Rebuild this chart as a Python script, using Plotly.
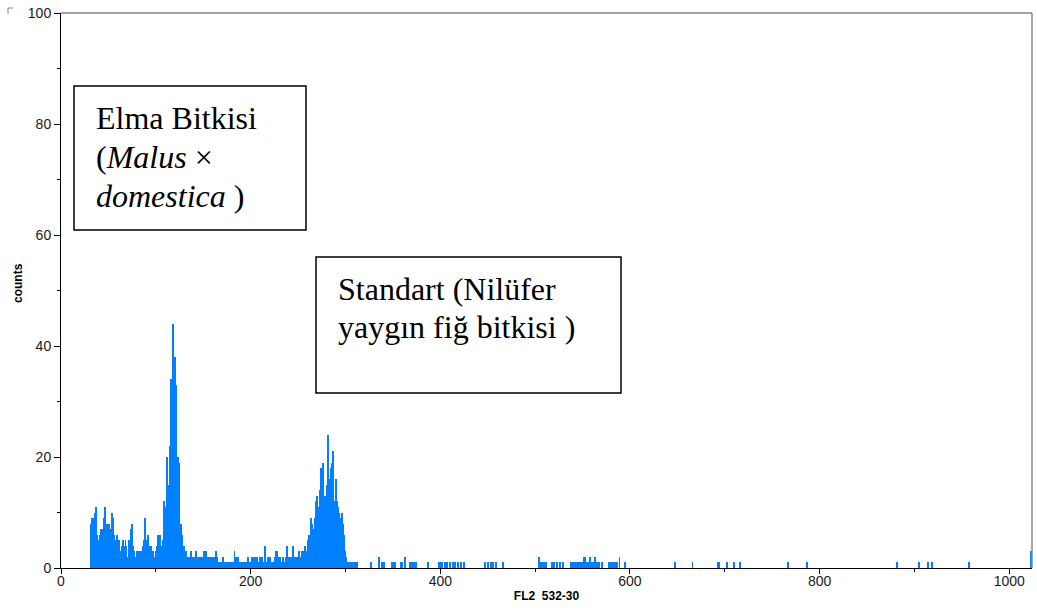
import plotly.graph_objects as go

# ---------------- data ----------------
dense_start = 32  # first channel of the dense block
dense_counts = [
    8, 9, 7, 9, 10, 11, 6, 5, 5, 6,
    7, 7, 6, 9, 11, 7, 5, 8, 6, 8,
    7, 5, 10, 9, 6, 5, 3, 6, 4, 5,
    3, 3, 4, 5, 2, 4, 5, 4, 2, 1,
    5, 5, 7, 8, 4, 3, 2, 1, 3, 3,
    2, 3, 3, 3, 4, 3, 5, 9, 5, 5,
    6, 3, 4, 4, 2, 3, 2, 1, 3, 4,
    6, 6, 6, 4, 4, 3, 5,
    # peak 1 (channels 109-135)
    12, 10, 11, 20, 11, 15, 22, 34, 34, 44,
    38, 38, 33, 20, 20, 19, 9, 8, 8, 6,
    4, 4, 2, 3, 1, 2, 2,
    # valley (136-256)
    1, 3, 2, 1, 2, 1, 3, 1, 2, 2,
    2, 1, 2, 2, 1, 3, 1, 3, 2, 2,
    2, 1, 2, 2, 1, 2, 1, 3, 3, 2,
    1, 1, 0, 1, 1, 2, 0, 1, 1, 1,
    0, 1, 1, 1, 0, 1, 1, 3, 2, 1,
    2, 2, 1, 1, 0, 1, 1, 1, 0, 1,
    1, 2, 1, 1, 1, 2, 1, 1, 2, 1,
    2, 2, 1, 1, 2, 1, 2, 1, 1, 4,
    1, 1, 2, 1, 2, 1, 1, 1, 0, 1,
    2, 3, 3, 1, 2, 2, 1, 1, 2, 1,
    1, 2, 4, 2, 2, 1, 2, 1, 2, 4,
    2, 2, 1, 2, 2, 3, 1, 2, 3, 2,
    3,
    # peak 2 (257-312)
    4, 2, 3, 5, 4, 6, 5, 9, 8, 7,
    6, 9, 12, 13, 9, 11, 14, 18, 12, 19,
    13, 11, 13, 15, 14, 24, 16, 12, 18, 19,
    21, 7, 12, 16, 12, 11, 10, 9, 8, 10,
    8, 5, 6, 3, 2, 1, 1, 1, 1, 0,
    1, 1, 1, 0, 1, 1,
]
sparse_channels = [
    327, 335, 339, 341, 349, 351, 352, 358, 360, 363, 368, 370, 372, 374, 387,
    399, 401, 402, 405, 407, 410, 413, 416, 419, 422, 425, 447, 450, 453, 456,
    459, 466, 504, 506, 508, 510, 512, 518, 520, 523, 526, 529, 538, 539, 540,
    541, 543, 544, 546, 548, 550, 551, 552, 553, 555, 557, 558, 560, 562, 563,
    565, 567, 571, 578, 580, 582, 584, 586, 589, 595, 648, 666, 693, 694, 702,
    710, 716, 767, 787, 882, 905, 914, 919, 958, 1023,
]
sparse_counts = [
    1, 2, 1, 1, 1, 1, 1, 1, 1, 2, 1, 1, 1, 1, 1,
    1, 1, 1, 1, 1, 1, 1, 1, 1, 1, 1, 1, 1, 1, 1,
    1, 1, 2, 1, 1, 1, 1, 1, 1, 1, 1, 1, 1, 1, 1,
    1, 1, 1, 1, 1, 1, 2, 1, 2, 1, 1, 2, 1, 1, 2,
    1, 1, 1, 1, 1, 1, 1, 1, 2, 1, 1, 1, 1, 1, 1,
    1, 1, 1, 1, 1, 1, 1, 1, 1, 3,
]
x_ticks = [0, 200, 400, 600, 800, 1000]
y_ticks = [0, 20, 40, 60, 80, 100]
x_title = "FL2\u00a0\u00a0532-30"
y_title = "counts"
label_1_lines = ["Elma Bitkisi", "(<i>Malus</i> ×", "<i>domestica</i> )"]
label_2_lines = ["Standart (Nilüfer", "yaygın fiğ bitkisi )"]

# ---------------- figure ----------------
channels = list(range(dense_start, dense_start + len(dense_counts))) + sparse_channels
counts = dense_counts + sparse_counts

W, H = 1037, 610
ML, MR, MT, MB = 61, 5, 13, 42
XR = [0, 1024]
YR = [0, 100]


def px_x(p):
    return XR[0] + (p - ML) / (W - ML - MR) * (XR[1] - XR[0])


def px_y(p):
    return YR[0] + (H - MB - p) / (H - MT - MB) * (YR[1] - YR[0])


def paper_x(p):
    return (p - ML) / (W - ML - MR)


def paper_y(p):
    return (H - MB - p) / (H - MT - MB)


fig = go.Figure(
    go.Bar(
        x=channels,
        y=counts,
        width=1,
        marker=dict(color="#0080ff", line=dict(width=0)),
        hoverinfo="x+y",
    )
)

tick_font = dict(family="Liberation Sans, Arial, sans-serif", size=14, color="#1a1a1a")
title_font = dict(family="Liberation Sans, Arial, sans-serif", size=12, color="black")
serif = dict(family="Liberation Serif, Times New Roman, serif", size=32, color="black")

annotations = []
for i, line in enumerate(label_1_lines):
    annotations.append(dict(text=line, xref="x", yref="y", x=px_x(94), y=px_y(118 + 39 * i),
                            xanchor="left", yanchor="middle", align="left", showarrow=False,
                            font=serif))
for i, line in enumerate(label_2_lines):
    annotations.append(dict(text=line, xref="x", yref="y", x=px_x(336), y=px_y(289 + 38 * i),
                            xanchor="left", yanchor="middle", align="left", showarrow=False,
                            font=serif))
# y-axis title (placed slightly above the axis centre as in the original)
annotations.append(dict(text="<b>" + y_title + "</b>", xref="paper", yref="paper",
                        x=paper_x(18), y=paper_y(283), xanchor="center", yanchor="middle",
                        textangle=-90, showarrow=False, font=title_font))

fig.update_layout(
    width=W,
    height=H,
    margin=dict(l=ML, r=MR, t=MT, b=MB, autoexpand=False),
    paper_bgcolor="white",
    plot_bgcolor="white",
    bargap=0,
    showlegend=False,
    xaxis=dict(
        range=XR,
        tickvals=x_ticks,
        ticks="outside",
        ticklen=5,
        tickcolor="black",
        showline=True,
        linecolor="black",
        linewidth=1,
        showgrid=False,
        zeroline=False,
        automargin=False,
        ticklabelstandoff=-5,
        tickfont=tick_font,
        minor=dict(dtick=100, tick0=0, ticks="outside", ticklen=3, tickcolor="black", showgrid=False),
        title=dict(text="<b>" + x_title + "</b>", font=title_font, standoff=3),
    ),
    yaxis=dict(
        range=YR,
        tickvals=y_ticks,
        ticks="outside",
        ticklen=6,
        tickcolor="black",
        showline=True,
        linecolor="black",
        linewidth=1,
        showgrid=False,
        zeroline=False,
        automargin=False,
        tickfont=tick_font,
        minor=dict(dtick=10, tick0=0, ticks="outside", ticklen=3, tickcolor="black", showgrid=False),
    ),
    shapes=[
        dict(type="line", xref="paper", yref="paper", x0=0, x1=1, y0=1, y1=1,
             line=dict(color="#444", width=1)),
        dict(type="line", xref="paper", yref="paper", x0=1, x1=1, y0=0, y1=1,
             line=dict(color="#888", width=1.5)),
        dict(type="rect", xref="x", yref="y", x0=px_x(74), x1=px_x(306), y0=px_y(230), y1=px_y(86),
             line=dict(color="black", width=1.5), fillcolor="white", layer="above"),
        dict(type="rect", xref="x", yref="y", x0=px_x(316), x1=px_x(621), y0=px_y(393), y1=px_y(257),
             line=dict(color="black", width=1.5), fillcolor="white", layer="above"),
        # small corner mark at top-left
        dict(type="line", xref="paper", yref="paper",
             x0=paper_x(8), x1=paper_x(8), y0=paper_y(14), y1=paper_y(8),
             line=dict(color="#888", width=1)),
        dict(type="line", xref="paper", yref="paper",
             x0=paper_x(8), x1=paper_x(13), y0=paper_y(8), y1=paper_y(8),
             line=dict(color="#888", width=1)),
    ],
    annotations=annotations,
)

fig.write_html("out.html")
